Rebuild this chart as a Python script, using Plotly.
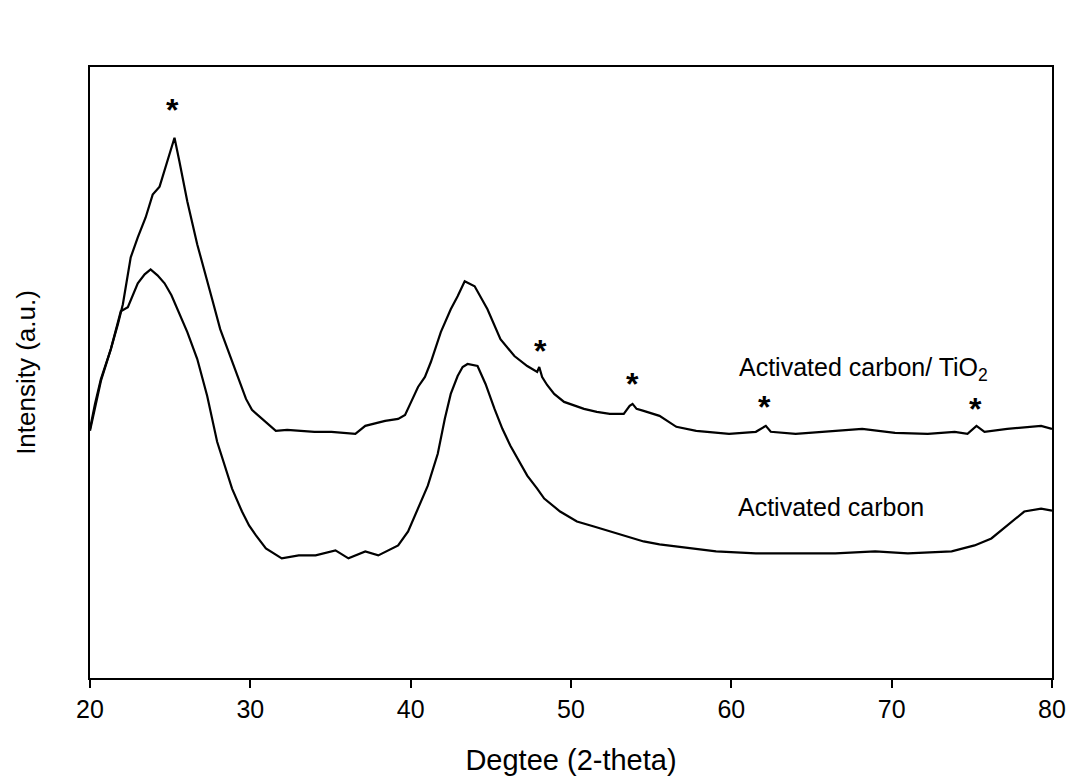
import plotly.graph_objects as go

# Activated carbon / TiO2 (upper trace) - 2theta (deg) and intensity (a.u.)
tio2_x = [20.00, 20.31, 20.68, 21.30, 21.74, 22.05, 22.54, 22.98, 23.47, 23.91, 24.34, 24.71,
          25.02, 25.27, 25.58, 26.07, 26.69, 27.13, 27.62, 28.12, 28.68, 29.30, 29.73, 30.10,
          30.60, 31.03, 31.59, 32.30, 33.02, 34.00, 35.06, 36.00, 36.55, 37.17, 38.41, 39.22,
          39.65, 40.03, 40.46, 40.89, 41.26, 41.88, 42.50, 42.93, 43.37, 43.99, 44.79, 45.60,
          46.47, 47.27, 47.89, 48.02, 48.20, 48.51, 48.95, 49.57, 50.81, 51.61, 52.42, 53.29,
          53.66, 53.84, 54.09, 54.53, 55.52, 56.57, 57.81, 59.86, 61.53, 62.15, 62.46, 64.01,
          65.87, 68.16, 70.21, 72.25, 73.93, 74.73, 75.29, 75.79, 77.21, 79.32, 80.00]
tio2_y = [250, 275, 300, 330, 355, 375, 422, 442, 462, 485, 493, 512,
          528, 542, 518, 478, 435, 410, 380, 350, 325, 298, 280, 269,
          262, 256, 248, 249, 248, 247, 247, 246, 245, 253, 258, 260,
          264, 277, 292, 302, 317, 347, 370, 383, 398, 393, 370, 340,
          323, 313, 307, 312, 302, 294, 285, 277, 270, 267, 265, 265,
          273, 275, 270, 268, 263, 252, 248, 245, 247, 253, 247, 245,
          247, 250, 246, 245, 247, 245, 253, 247, 250, 253, 250]

# Activated carbon (lower trace)
ac_x = [20.00, 20.68, 21.30, 21.92, 22.36, 22.98, 23.41, 23.78, 24.21, 24.65, 25.08, 25.45,
        26.07, 26.69, 27.31, 27.93, 28.49, 28.86, 29.48, 29.92, 30.35, 30.97, 31.96, 33.02,
        34.07, 35.31, 36.12, 37.17, 37.98, 38.60, 39.22, 39.84, 40.46, 41.07, 41.69, 42.13,
        42.50, 42.93, 43.24, 43.55, 44.17, 44.67, 45.23, 45.72, 46.22, 46.78, 47.27, 47.89,
        48.33, 49.32, 50.37, 51.43, 52.42, 53.47, 54.53, 55.52, 56.57, 59.05, 61.53, 64.01,
        66.49, 68.97, 71.01, 73.74, 75.17, 76.22, 77.21, 78.27, 79.32, 80.00]
ac_y = [248, 298, 330, 368, 372, 396, 405, 410, 404, 396, 384, 370,
        347, 320, 283, 237, 208, 190, 167, 153, 143, 130, 120, 123,
        123, 128, 120, 127, 123, 128, 133, 147, 170, 193, 225, 260,
        285, 303, 312, 315, 313, 295, 270, 250, 233, 217, 203, 190,
        180, 167, 157, 152, 147, 142, 137, 134, 132, 127, 125, 125,
        125, 127, 125, 127, 133, 140, 153, 167, 170, 168]

# Peak markers (*) and trace labels
star_x = [25.14, 48.08, 53.84, 62.09, 75.23]
star_y = [570, 328, 295, 272, 270]
label_text = ["Activated carbon/ TiO<sub>2</sub>", "Activated carbon"]
label_x = [68.22, 66.24]
label_y = [310, 172]

x_ticks = [20, 30, 40, 50, 60, 70, 80]

FONT = "Liberation Sans, Arial, sans-serif"

fig = go.Figure()
fig.add_trace(go.Scatter(x=tio2_x, y=tio2_y, mode="lines",
                         line=dict(color="black", width=2.2), showlegend=False))
fig.add_trace(go.Scatter(x=ac_x, y=ac_y, mode="lines",
                         line=dict(color="black", width=2.2), showlegend=False))

for sx, sy in zip(star_x, star_y):
    fig.add_annotation(x=sx, y=sy, text="<b>*</b>", showarrow=False,
                       font=dict(family=FONT, size=32, color="black"))
for t, lx, ly in zip(label_text, label_x, label_y):
    fig.add_annotation(x=lx, y=ly, text=t, showarrow=False,
                       font=dict(family=FONT, size=25, color="black"))

fig.update_layout(
    width=1078, height=783,
    margin=dict(l=90, r=20, t=67, b=103),
    paper_bgcolor="white", plot_bgcolor="white",
    font=dict(family=FONT, color="black"),
    xaxis=dict(range=[20, 80], tickvals=x_ticks, ticks="outside", ticklen=8,
               tickwidth=2, tickcolor="black", showline=True, linewidth=2,
               linecolor="black", mirror=True, showgrid=False, zeroline=False,
               tickfont=dict(size=25, family=FONT, color="black"),
               title=dict(text="Degtee (2-theta)", standoff=28,
                          font=dict(size=29, family=FONT, color="black"))),
    yaxis=dict(range=[0, 613], showticklabels=False, ticks="", showline=True,
               linewidth=2, linecolor="black", mirror=True, showgrid=False,
               zeroline=False,
               title=dict(text="Intensity (a.u.)", standoff=45,
                          font=dict(size=26, family=FONT, color="black"))),
)

fig.write_html("out.html")
